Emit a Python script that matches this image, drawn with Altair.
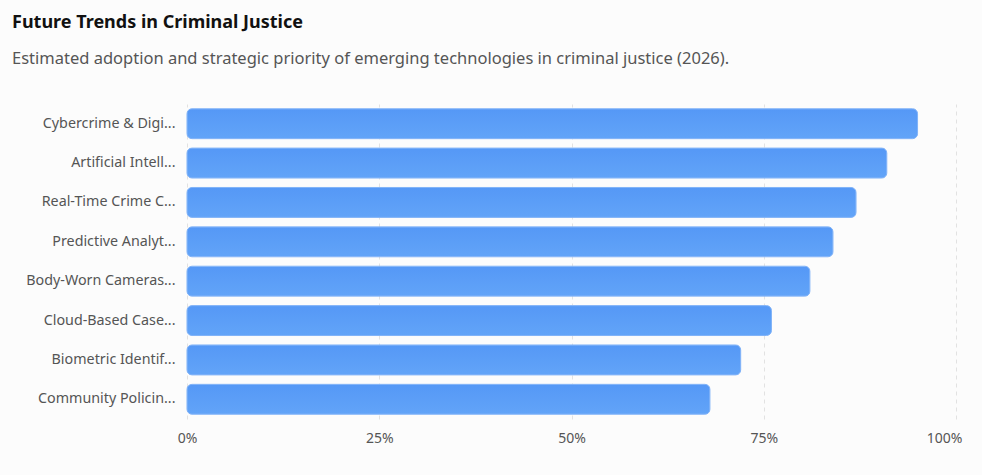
import altair as alt
import pandas as pd

technologies = [
    "Cybercrime & Digital Forensics",
    "Artificial Intelligence in Policing",
    "Real-Time Crime Centers",
    "Predictive Analytics Tools",
    "Body-Worn Cameras & Video Analytics",
    "Cloud-Based Case Management",
    "Biometric Identification",
    "Community Policing Platforms",
]
adoption = [95, 91, 87, 84, 81, 76, 72, 68]
tick_values = [0, 25, 50, 75, 100]

df = pd.DataFrame({"technology": technologies, "adoption": adoption})

FONT = "Noto Sans"

chart = (
    alt.Chart(df)
    .mark_bar(
        cornerRadius=5,
        stroke="#7fb2f8",
        strokeWidth=1,
        color=alt.Gradient(
            gradient="linear",
            stops=[
                alt.GradientStop(color="#5598f6", offset=0),
                alt.GradientStop(color="#62a4f8", offset=1),
            ],
            x1=0, x2=0, y1=0, y2=1,
        ),
    )
    .encode(
        y=alt.Y(
            "technology:N",
            sort=technologies,
            title=None,
            scale=alt.Scale(paddingInner=0.24, paddingOuter=0.12),
            axis=alt.Axis(
                labelExpr="length(datum.label) > 18 ? trim(substring(datum.label, 0, 17)) + '...' : datum.label",
                labelLimit=300,
                labelFont=FONT,
                labelFontSize=14.3,
                labelColor="#555555",
                labelPadding=12,
                ticks=False,
                domain=False,
                grid=False,
            ),
        ),
        x=alt.X(
            "adoption:Q",
            title=None,
            scale=alt.Scale(domain=[0, 100]),
            axis=alt.Axis(
                values=tick_values,
                labelExpr="datum.value + '%'",
                labelFont=FONT,
                labelFontSize=14,
                labelColor="#555555",
                labelPadding=12,
                labelFlush=False,
                labelAlign=alt.expr("datum.value == 100 ? 'right' : 'center'"),
                labelOffset=alt.expr("datum.value == 100 ? 6 : 0"),
                ticks=False,
                domain=False,
                grid=True,
                gridDash=[4, 4],
                gridColor="#e2e2e2",
                gridWidth=1,
            ),
        ),
    )
    .properties(
        width=769,
        height=315,
        background="#fcfcfc",
        padding={"left": 187, "top": 104, "right": 26, "bottom": 56},
        autosize=alt.AutoSizeParams(type="none"),
        title=alt.Title(
            text="Future Trends in Criminal Justice",
            subtitle="Estimated adoption and strategic priority of emerging technologies in criminal justice (2026).",
            anchor="start",
            frame="group",
            dx=-175,
            offset=37,
            font=FONT,
            fontSize=18,
            fontWeight="bold",
            color="#111111",
            subtitleFont=FONT,
            subtitleFontSize=16.5,
            subtitleColor="#555555",
            subtitlePadding=19,
        ),
    )
    .configure_view(stroke=None)
)

chart.save("out.html", embed_options={"renderer": "svg", "actions": False})
